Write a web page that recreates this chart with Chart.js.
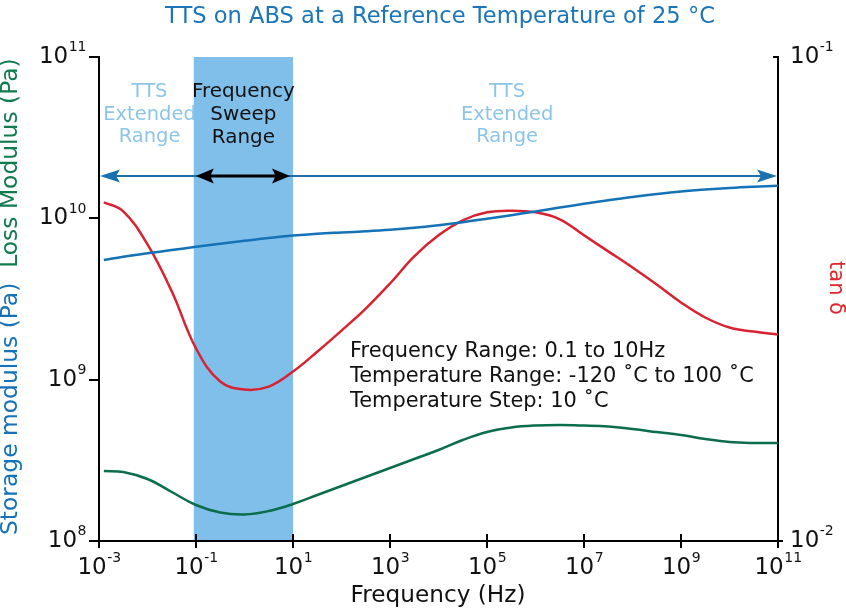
<!DOCTYPE html>
<html><head><meta charset="utf-8">
<script src="https://cdn.jsdelivr.net/npm/chart.js@4.4.0/dist/chart.umd.min.js"></script>
<style>html,body{margin:0;padding:0;background:#fff}#wrap{width:846px;height:611px;position:relative}</style>
</head><body><div id="wrap"><canvas id="c" width="846" height="611"></canvas></div>
<script>
// ---- data ----
const frequencyHz = [1.26e-3, 3.16e-3, 1e-2, 3.16e-2, 0.1, 0.316, 1, 3.16, 10, 31.6, 100, 316, 1e3, 3.16e3, 1e4, 3.16e4, 1e5, 3.16e5, 1e6, 3.16e6, 1e7, 3.16e7, 1e8, 3.16e8, 1e9, 3.16e9, 1e10, 3.16e10, 1e11];
const storageModulusPa = [5.52e9, 5.775e9, 6.071e9, 6.36e9, 6.661e9, 6.963e9, 7.256e9, 7.553e9, 7.816e9, 8.019e9, 8.17e9, 8.31e9, 8.49e9, 8.736e9, 9.066e9, 9.462e9, 9.933e9, 1.0457e10, 1.104e10, 1.166e10, 1.231e10, 1.295e10, 1.358e10, 1.415e10, 1.467e10, 1.509e10, 1.544e10, 1.571e10, 1.592e10];
const lossModulusPa = [2.716e8, 2.677e8, 2.423e8, 2.012e8, 1.672e8, 1.502e8, 1.460e8, 1.534e8, 1.696e8, 1.928e8, 2.192e8, 2.493e8, 2.835e8, 3.223e8, 3.664e8, 4.227e8, 4.738e8, 5.051e8, 5.197e8, 5.236e8, 5.197e8, 5.124e8, 4.945e8, 4.738e8, 4.539e8, 4.288e8, 4.108e8, 4.050e8, 4.050e8];
const tanDelta = [0.0501, 0.0480, 0.0410, 0.0328, 0.0250, 0.02135, 0.02055, 0.02084, 0.02239, 0.02461, 0.02721, 0.03021, 0.03404, 0.03873, 0.04281, 0.04599, 0.04776, 0.04812, 0.04776, 0.04621, 0.04281, 0.03966, 0.03674, 0.03388, 0.03110, 0.02896, 0.02761, 0.02708, 0.02670];

const xTickValues = [1e-3, 1e-1, 1e1, 1e3, 1e5, 1e7, 1e9, 1e11];
const xTickExponents = ['-3', '-1', '1', '3', '5', '7', '9', '11'];
const leftTickValues = [1e8, 1e9, 1e10, 1e11];
const leftTickExponents = ['8', '9', '10', '11'];
const rightTickValues = [1e-2, 1e-1];
const rightTickExponents = ['-2', '-1'];

const sweepRangeHz = [0.09, 10];
const fullRangeHz = [1e-3, 1e11];

const titleText = 'TTS on ABS at a Reference Temperature of 25 °C';
const xTitle = 'Frequency (Hz)';
const yTitleStorage = 'Storage modulus (Pa)';
const yTitleLoss = 'Loss Modulus (Pa)';
const y1Title = 'tan δ';
const leftRangeLabel = ['TTS', 'Extended', 'Range'];
const sweepLabel = ['Frequency', 'Sweep', 'Range'];
const rightRangeLabel = ['TTS', 'Extended', 'Range'];
const infoLines = ['Frequency Range: 0.1 to 10Hz', 'Temperature Range: -120 ˚C to 100 ˚C', 'Temperature Step: 10 ˚C'];

// ---- styling ----
const FAM = "'DejaVu Sans', sans-serif";
const C_STORAGE = '#1572b6', C_LOSS = '#0b6e4a', C_TAN = '#d92231';
const C_TITLE = '#1b75bb', C_LIGHT = '#8cc5ea', C_BAND = '#80bfea', C_ARROW = '#1a6fae';

function pts(ys) { return frequencyHz.map((f, i) => ({ x: f, y: ys[i] })); }
function fitSize(ctx, text, target) { ctx.font = '100px ' + FAM; return 100 * target / ctx.measureText(text).width; }

function drawPow(ctx, x, y, exp, align, baseSize, expSize) {
  ctx.font = baseSize + 'px ' + FAM; const wb = ctx.measureText('10').width;
  ctx.font = expSize + 'px ' + FAM; const we = ctx.measureText(exp).width;
  const tot = wb + we;
  let x0 = align === 'center' ? x - tot / 2 : (align === 'right' ? x - tot : x);
  ctx.fillStyle = '#111'; ctx.textAlign = 'left'; ctx.textBaseline = 'middle';
  ctx.font = baseSize + 'px ' + FAM; ctx.fillText('10', x0, y);
  ctx.font = expSize + 'px ' + FAM; ctx.fillText(exp, x0 + wb + 0.5, y - baseSize * 0.4);
}

function arrowHead(ctx, tipX, y, dir, len, half, color) {
  ctx.fillStyle = color; ctx.beginPath();
  ctx.moveTo(tipX, y); ctx.lineTo(tipX - dir * len, y - half); ctx.lineTo(tipX - dir * len * 0.8, y); ctx.lineTo(tipX - dir * len, y + half);
  ctx.closePath(); ctx.fill();
}

const decor = {
  id: 'decor',
  beforeDatasetsDraw(chart) {
    const { ctx, chartArea: a, scales: { x } } = chart;
    const x0 = x.getPixelForValue(sweepRangeHz[0]), x1 = x.getPixelForValue(sweepRangeHz[1]);
    ctx.save(); ctx.fillStyle = C_BAND; ctx.fillRect(x0, a.top, x1 - x0, a.bottom - a.top - 1); ctx.restore();
  },
  afterDatasetsDraw(chart) {
    const { ctx, chartArea: a, scales: { x, y } } = chart;
    ctx.save();
    const ay = y.getPixelForValue(1.83e10);
    const xl = x.getPixelForValue(fullRangeHz[0]) + 1, xr = x.getPixelForValue(fullRangeHz[1]) - 1;
    ctx.strokeStyle = C_ARROW; ctx.lineWidth = 2;
    ctx.beginPath(); ctx.moveTo(xl + 10, ay); ctx.lineTo(xr - 10, ay); ctx.stroke();
    arrowHead(ctx, xl, ay, -1, 20, 6.5, C_ARROW);
    arrowHead(ctx, xr, ay, 1, 20, 6.5, C_ARROW);
    const bl = x.getPixelForValue(sweepRangeHz[0]) + 2, br = x.getPixelForValue(sweepRangeHz[1]) - 3;
    ctx.strokeStyle = '#000'; ctx.lineWidth = 3;
    ctx.beginPath(); ctx.moveTo(bl + 10, ay); ctx.lineTo(br - 10, ay); ctx.stroke();
    arrowHead(ctx, bl, ay, -1, 18, 7.5, '#000');
    arrowHead(ctx, br, ay, 1, 18, 7.5, '#000');

    // range labels
    const s1 = fitSize(ctx, 'Extended', 89) * 1.04;
    ctx.textAlign = 'center'; ctx.textBaseline = 'middle';
    ctx.font = s1 + 'px ' + FAM; ctx.fillStyle = C_LIGHT;
    const cxL = x.getPixelForValue(1.1e-2), cxR = x.getPixelForValue(2.6e5);
    [0, 1, 2].forEach(i => { ctx.fillText(leftRangeLabel[i], cxL, a.top + 35 + i * 22.5); ctx.fillText(rightRangeLabel[i], cxR, a.top + 35 + i * 22.5); });
    const s2 = fitSize(ctx, 'Frequency', 99) * 1.04;
    ctx.font = s2 + 'px ' + FAM; ctx.fillStyle = '#111';
    const cxS = (x.getPixelForValue(sweepRangeHz[0]) + x.getPixelForValue(sweepRangeHz[1])) / 2;
    [0, 1, 2].forEach(i => ctx.fillText(sweepLabel[i], cxS, a.top + 35 + i * 23));

    // info text
    const s3 = fitSize(ctx, infoLines[1], 404);
    ctx.font = s3 + 'px ' + FAM; ctx.textAlign = 'left'; ctx.fillStyle = '#111';
    infoLines.forEach((t, i) => ctx.fillText(t, 350, 352 + i * 25));
    ctx.restore();
  },
  afterDraw(chart) {
    const { ctx, chartArea: a, scales: { x, y, y1 } } = chart;
    ctx.save();
    // axis extensions and inward ticks
    ctx.strokeStyle = '#000'; ctx.lineWidth = 2;
    ctx.beginPath(); ctx.moveTo(a.left - 10, a.bottom); ctx.lineTo(a.right + 5, a.bottom); ctx.stroke();
    xTickValues.forEach(v => { const px = x.getPixelForValue(v); ctx.beginPath(); ctx.moveTo(px, a.bottom); ctx.lineTo(px, a.bottom - 7); ctx.stroke(); });
    rightTickValues.forEach(v => { const py = y1.getPixelForValue(v); ctx.beginPath(); ctx.moveTo(a.right, py); ctx.lineTo(a.right - 5, py); ctx.stroke(); });

    // tick labels
    xTickValues.forEach((v, i) => drawPow(ctx, x.getPixelForValue(v), a.bottom + 27, xTickExponents[i], 'center', 23, 14));
    leftTickValues.forEach((v, i) => drawPow(ctx, a.left - 13, y.getPixelForValue(v), leftTickExponents[i], 'right', 23, 14));
    rightTickValues.forEach((v, i) => drawPow(ctx, a.right + 12, y1.getPixelForValue(v), rightTickExponents[i], 'left', 23, 14));

    // title
    ctx.textAlign = 'center'; ctx.textBaseline = 'middle';
    ctx.font = fitSize(ctx, titleText, 550) + 'px ' + FAM; ctx.fillStyle = C_TITLE;
    ctx.fillText(titleText, 440, 17);
    // x title
    ctx.font = fitSize(ctx, xTitle, 175) + 'px ' + FAM; ctx.fillStyle = '#111';
    ctx.fillText(xTitle, 438, 596);
    // left y title (two colours, one size)
    const gap = '  ';
    const ys = fitSize(ctx, yTitleStorage + gap + yTitleLoss, 477);
    ctx.font = ys + 'px ' + FAM;
    const w1 = ctx.measureText(yTitleStorage + gap).width;
    ctx.translate(11, 535); ctx.rotate(-Math.PI / 2);
    ctx.textAlign = 'left';
    ctx.fillStyle = C_STORAGE; ctx.fillText(yTitleStorage, 0, 0);
    ctx.fillStyle = '#127a4f'; ctx.fillText(yTitleLoss, w1, 0);
    ctx.setTransform(1, 0, 0, 1, 0, 0);
    // right title
    ctx.translate(835, 288); ctx.rotate(Math.PI / 2);
    ctx.textAlign = 'center'; ctx.font = '21px ' + FAM; ctx.fillStyle = '#e0242b';
    ctx.fillText(y1Title, 0, 0);
    ctx.restore();
  }
};

const axisCommon = {
  type: 'logarithmic',
  ticks: { display: false },
  border: { display: true, color: '#000', width: 2 },
  title: { display: false }
};

new Chart(document.getElementById('c'), {
  type: 'line',
  data: {
    datasets: [
      { label: 'Storage modulus', data: pts(storageModulusPa), yAxisID: 'y', borderColor: C_STORAGE },
      { label: 'Loss modulus', data: pts(lossModulusPa), yAxisID: 'y', borderColor: C_LOSS },
      { label: 'tan δ', data: pts(tanDelta), yAxisID: 'y1', borderColor: C_TAN }
    ]
  },
  options: {
    responsive: false, animation: false, devicePixelRatio: 1,
    layout: { padding: { left: 89, right: 68, top: 57, bottom: 63 } },
    plugins: { legend: { display: false }, tooltip: { enabled: false }, title: { display: false } },
    elements: { point: { radius: 0 }, line: { borderWidth: 2.5, tension: 0.4, cubicInterpolationMode: 'default', fill: false } },
    scales: {
      x: Object.assign({}, axisCommon, { min: 1e-3, max: 1e11,
        afterBuildTicks: s => { s.ticks = xTickValues.map(v => ({ value: v })); },
        grid: { drawOnChartArea: false, drawTicks: true, tickLength: 7, color: '#000', lineWidth: 2 } }),
      y: Object.assign({}, axisCommon, { position: 'left', min: 1e8, max: 1e11,
        afterBuildTicks: s => { s.ticks = leftTickValues.map(v => ({ value: v })); },
        grid: { drawOnChartArea: false, drawTicks: true, tickLength: 10, color: '#000', lineWidth: 2 } }),
      y1: Object.assign({}, axisCommon, { position: 'right', min: 1e-2, max: 1e-1,
        afterBuildTicks: s => { s.ticks = rightTickValues.map(v => ({ value: v })); },
        grid: { drawOnChartArea: false, drawTicks: false, color: '#000', lineWidth: 2 } })
    }
  },
  plugins: [decor]
});
</script></body></html>
